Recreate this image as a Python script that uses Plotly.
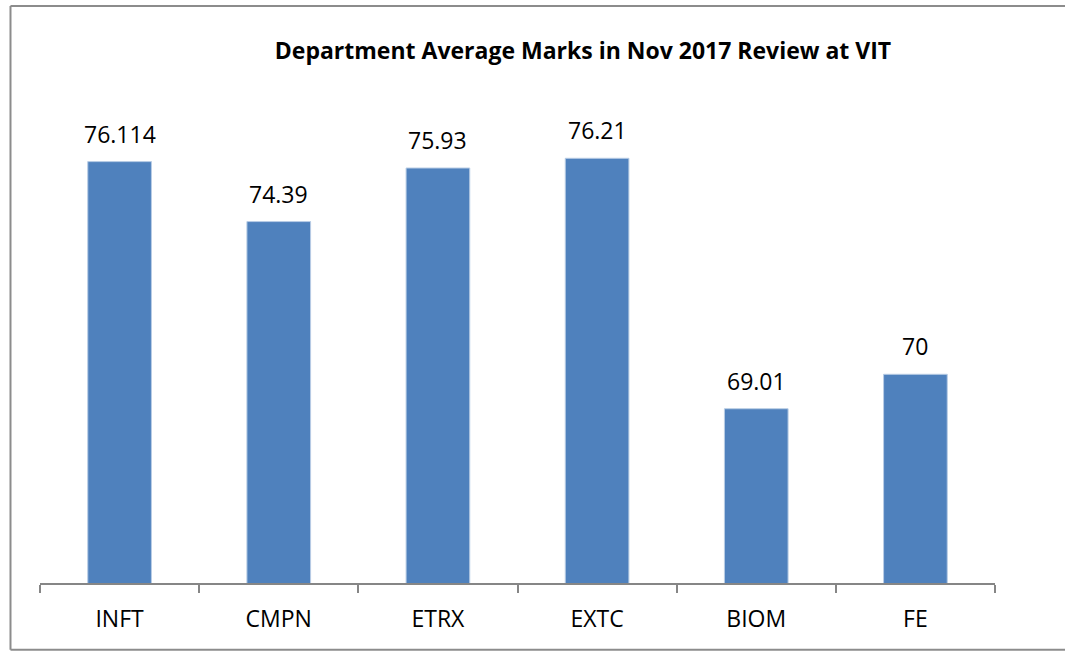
import plotly.graph_objects as go

categories = ["INFT", "CMPN", "ETRX", "EXTC", "BIOM", "FE"]
values = [76.114, 74.39, 75.93, 76.21, 69.01, 70]
value_labels = ["76.114", "74.39", "75.93", "76.21", "69.01", "70"]
title_text = "Department Average Marks in Nov 2017 Review at VIT"

FONT = "Open Sans"

fig = go.Figure()
fig.add_trace(go.Bar(
    x=categories, y=values,
    marker=dict(color="#4F81BD", line=dict(color="#B9CDE5", width=1)),
    hoverinfo="x+y",
))

for c, v, t in zip(categories, values, value_labels):
    fig.add_annotation(x=c, y=v, text=t, showarrow=False, yanchor="bottom",
                       yshift=10, font=dict(family=FONT, size=23, color="#000000"))

# chart frame (left, top, bottom edges; right edge lies outside the picture)
frame = dict(color="#8C8C8C", width=2)
fx0, fx1, fy0, fy1 = -0.0309, 1.2, -0.137, 1.1847
fig.add_shape(type="line", xref="paper", yref="paper", x0=fx0, x1=fx0, y0=fy0, y1=fy1, line=frame)
fig.add_shape(type="line", xref="paper", yref="paper", x0=fx0, x1=fx1, y0=fy1, y1=fy1, line=frame)
fig.add_shape(type="line", xref="paper", yref="paper", x0=fx0, x1=fx1, y0=fy0, y1=fy0, line=frame)

fig.update_layout(
    width=1065, height=651,
    margin=dict(l=40, r=70, t=96, b=68, pad=0),
    paper_bgcolor="white", plot_bgcolor="white",
    bargap=0.6,
    showlegend=False,
    title=dict(text="<b>" + title_text + "</b>", x=583/1065, xanchor="center",
               y=1 - 51/651, yanchor="middle",
               font=dict(family=FONT, size=23, color="#000000")),
    xaxis=dict(showline=True, linecolor="#868686", linewidth=2,
               ticks="outside", tickson="boundaries", ticklen=8, tickwidth=2,
               tickcolor="#868686", ticklabelstandoff=14,
               tickfont=dict(family=FONT, size=23, color="#000000"),
               showgrid=False),
    yaxis=dict(range=[64, 78], visible=False, showgrid=False, zeroline=False),
)

fig.write_html("out.html", config={"displayModeBar": False})

with open("out.html", "r", encoding="utf-8") as f:
    html = f.read()
html = html.replace("<body>", "<body style=\"margin:0;padding:0;overflow:hidden\">", 1)
with open("out.html", "w", encoding="utf-8") as f:
    f.write(html)
